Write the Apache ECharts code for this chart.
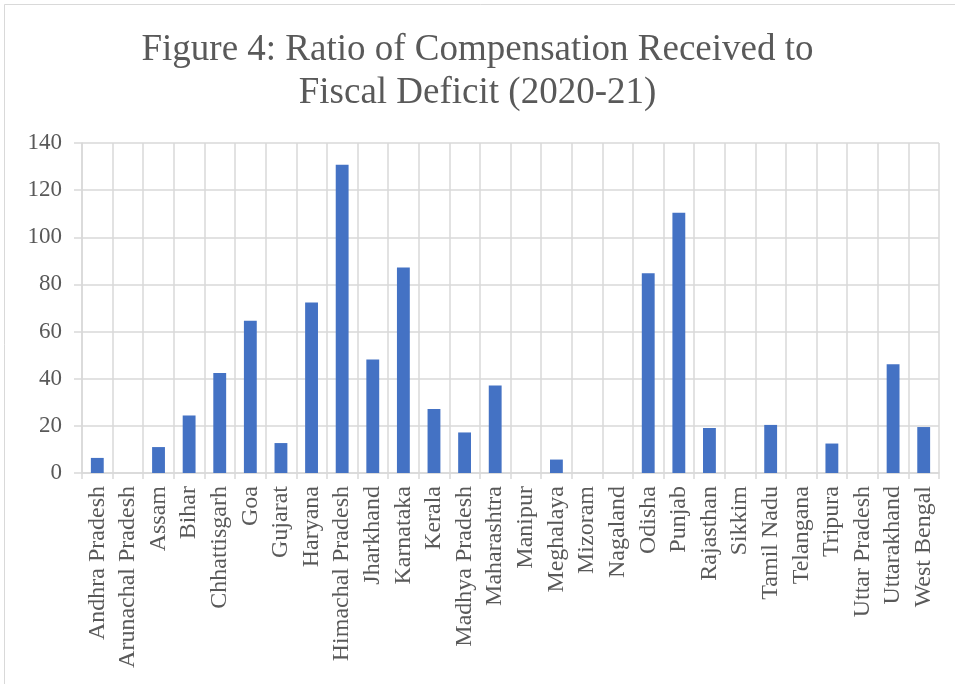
<!DOCTYPE html>
<html><head><meta charset="utf-8">
<script src="https://cdn.jsdelivr.net/npm/echarts@6/dist/echarts.min.js"></script>
<style>html,body{margin:0;padding:0;background:#fff}#c{width:955px;height:684px}</style>
</head><body><div id="c"></div>
<script>
const categories = ["Andhra Pradesh","Arunachal Pradesh","Assam","Bihar","Chhattisgarh","Goa","Gujarat","Haryana","Himachal Pradesh","Jharkhand","Karnataka","Kerala","Madhya Pradesh","Maharashtra","Manipur","Meghalaya","Mizoram","Nagaland","Odisha","Punjab","Rajasthan","Sikkim","Tamil Nadu","Telangana","Tripura","Uttar Pradesh","Uttarakhand","West Bengal"];
const values = [6.4,0,11.0,24.4,42.4,64.6,12.7,72.3,130.8,48.1,87.2,27.2,17.2,37.1,0,5.7,0,0,84.7,110.4,19.1,0,20.4,0,12.5,0,46.1,19.5];
const yTicks = [0,20,40,60,80,100,120,140];

const chart = echarts.init(document.getElementById('c'), null, {renderer:'canvas'});
const font = '"Liberation Serif","Times New Roman",serif';
chart.setOption({
  animation:false,
  backgroundColor:'#fff',
  title:{
    text:'Figure 4: Ratio of Compensation Received to\nFiscal Deficit (2020-21)',
    left:'center', top:24,
    textStyle:{fontFamily:font, fontSize:37, fontWeight:'normal', color:'#595959', lineHeight:43}
  },
  graphic:[{type:'rect', shape:{x:4.5,y:4.5,width:1000,height:1000}, style:{fill:'none', stroke:'#d9d9d9', lineWidth:1}, silent:true}],
  grid:{left:82, right:16, top:143, bottom:211},
  xAxis:{
    type:'category', data:categories,
    axisLine:{lineStyle:{color:'#d9d9d9', width:1.5}},
    axisTick:{show:true, length:6, lineStyle:{color:'#d9d9d9', width:1.5}},
    splitLine:{show:true, lineStyle:{color:'#d9d9d9', width:1.5}},
    axisLabel:{rotate:90, interval:0, fontFamily:font, fontSize:24, color:'#595959', margin:13}
  },
  yAxis:{
    type:'value', min:0, max:140, interval:20,
    axisLine:{show:true, lineStyle:{color:'#d9d9d9', width:1.5}},
    axisTick:{show:true, length:8, lineStyle:{color:'#d9d9d9', width:1.5}},
    splitLine:{show:true, lineStyle:{color:'#d9d9d9', width:1.5}},
    axisLabel:{fontFamily:font, fontSize:23, color:'#595959', margin:20,
      formatter:v=>yTicks.includes(v)?String(v):''}
  },
  series:[{type:'bar', data:values, barWidth:'42%', itemStyle:{color:'#4472C4'}}]
});
</script></body></html>
